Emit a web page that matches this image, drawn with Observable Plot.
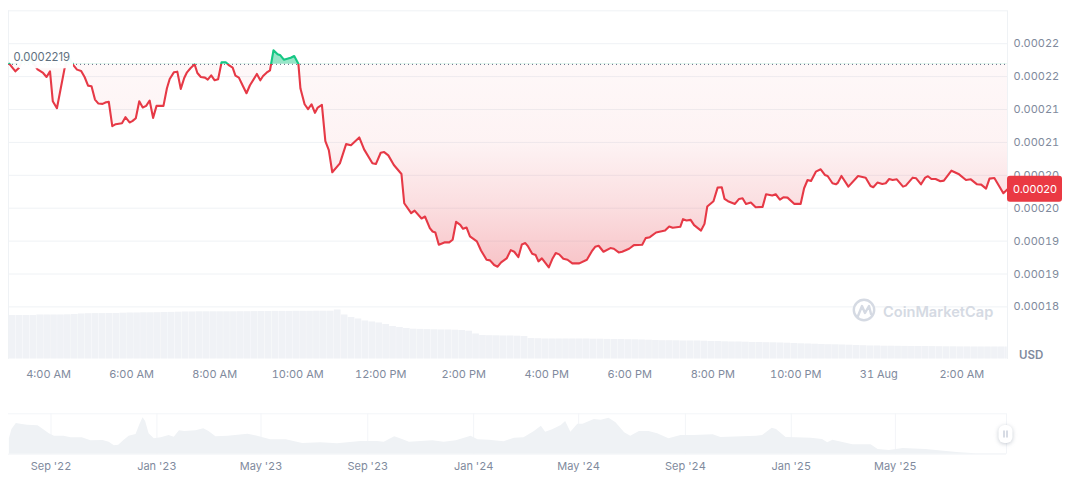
<!DOCTYPE html>
<html><head><meta charset="utf-8">
<script src="https://cdn.jsdelivr.net/npm/d3@7"></script>
<script src="https://cdn.jsdelivr.net/npm/@observablehq/plot@0.6"></script>
<style>
html,body{margin:0;padding:0;background:#fff}
#chart{position:relative;width:1072px;height:477px;overflow:hidden}
#chart svg{position:absolute;left:0;top:0}
</style></head><body><div id="chart"></div>
<script>
// minutes since 00:00, 30 Aug
const times=[183,192,197,207,224,232,237,242,246,252,257,263,269,276,281,287,292,297,302,307,312,318,323,327,332,337,346,351,357,361,366,371,376,381,386,391,396,406,411,415,421,426,431,436,440,445,451,455,460,466,470,475,480,485,490,496,501,506,510,515,521,526,531,541,546,550,555,560,565,571,575,580,590,595,601,604,610,615,620,625,629,635,640,645,650,661,670,677,689,696,708,713,720,725,731,739,750,754,764,769,779,784,791,795,799,804,812,819,824,829,835,839,844,849,859,865,873,878,884,889,894,902,908,913,919,924,929,933,939,944,948,953,963,968,973,978,984,990,997,1007,1018,1025,1030,1035,1042,1052,1057,1064,1069,1079,1086,1098,1103,1109,1118,1131,1137,1142,1153,1157,1162,1168,1173,1183,1188,1192,1201,1207,1213,1217,1222,1232,1238,1243,1248,1255,1262,1272,1277,1286,1291,1297,1302,1308,1318,1327,1332,1337,1342,1349,1356,1362,1366,1373,1378,1381,1386,1396,1410,1421,1428,1432,1438,1445,1450,1455,1460,1466,1475,1479,1489,1494,1501,1507,1511,1516,1522,1529,1534,1545,1556,1566,1573,1582,1588,1595,1600,1607,1620,1626];
// price in 1e-8 USD
const pricesE8=[22196,22080,22131,22368,22111,22055,21994,22080,21626,21520,21792,22121,22298,22171,22106,22085,21994,21863,21853,21651,21590,21585,21611,21616,21247,21277,21292,21383,21303,21323,21368,21626,21530,21555,21636,21373,21555,21555,21823,21964,22065,22075,21813,21979,22065,22126,22186,22055,21994,21984,21954,22020,21944,21959,22217,22217,22171,22136,22015,21984,21853,21747,21868,22040,21944,22010,22060,22096,22399,22338,22323,22257,22287,22313,22196,21818,21580,21505,21580,21449,21530,21570,21020,20883,20546,20682,20974,20957,21075,20894,20682,20671,20843,20853,20803,20656,20520,20075,19924,19964,19843,19874,19697,19646,19631,19444,19480,19480,19520,19793,19747,19687,19707,19571,19495,19358,19217,19207,19136,19111,19177,19237,19363,19338,19257,19449,19470,19419,19308,19288,19192,19237,19101,19227,19318,19298,19232,19217,19161,19161,19217,19343,19414,19429,19338,19394,19384,19328,19338,19384,19439,19444,19545,19560,19631,19661,19722,19702,19717,19833,19813,19823,19742,19660,19762,20025,20106,20313,20318,20141,20106,20065,20141,20151,20065,20086,20015,20020,20212,20192,20212,20131,20166,20161,20065,20065,20303,20429,20414,20555,20591,20505,20490,20379,20363,20389,20490,20328,20490,20464,20338,20318,20389,20368,20379,20444,20429,20439,20328,20343,20464,20454,20363,20464,20485,20444,20444,20409,20419,20570,20515,20429,20439,20363,20358,20298,20449,20459,20227,20288];
const baselineE8=22186;
const baselineLabel="0.0002219";
const lastLabel="0.00020";
const yTicksE8=[23000,22500,22000,21500,21000,20500,20000,19500,19000,18500];
const yTickLabels=["","0.00022","0.00022","0.00021","0.00021","0.00020","0.00020","0.00019","0.00019","0.00018"];
const xTickMinutes=[240,360,480,600,720,840,960,1080,1200,1320,1440,1560];
const xTickLabels=["4:00 AM","6:00 AM","8:00 AM","10:00 AM","12:00 PM","2:00 PM","4:00 PM","6:00 PM","8:00 PM","10:00 PM","31 Aug","2:00 AM"];
// volume, one bar per 10 minutes from 183 minutes (relative units)
const volumes=[43.5,43.5,43.5,43.5,44,44,44,44,44.2,44.5,45,45.3,45.4,45.4,45.5,45.5,45.8,46,46,46.2,46.2,46.3,46.5,46.6,46.8,47,47,47.2,47.2,47.2,47.2,47.2,47.2,47.3,47.3,47.4,47.5,47.5,47.6,47.6,47.6,47.7,47.7,47.7,47.8,47.8,47.8,49,44,41.5,40,38,37,36,34.5,32.5,31.5,30.5,29.8,29.6,29.4,29.2,29,29,28.8,28.5,27.8,25,23.5,23.3,23.2,23,23,22.8,22.5,20.5,20.3,20,20,20,20,20,20,20,19.8,19.8,19.6,19.5,19.5,19.3,19.2,19,18.8,18.5,18.3,18.3,18.2,18,18,18,17.8,17.5,17.5,17.2,17,17,16.8,16.5,16.5,16.3,16.2,16,15.8,15.5,15.2,15,14.8,14.5,14.3,14.2,14,13.8,13.5,13.3,13,13,12.8,12.8,12.7,12.6,12.5,12.5,12.5,12.4,12.3,12.2,12.2,12.1,12.1,12,12,12,12,12,12];
// overview: days relative to 1 Sep 2022, relative level
const navDays=[-48,-45,-40,-35,-27,-15,-10,-2,4,15,23,36,46,60,67,73,78,84,90,98,102,106,109,113,119,127,136,142,148,154,167,176,182,190,204,227,238,253,271,290,311,330,357,376,384,396,405,413,440,453,467,484,492,505,522,534,545,557,565,570,578,588,593,599,607,613,626,634,643,651,661,668,678,689,699,712,726,741,763,772,813,820,831,836,847,859,876,889,895,901,924,945,953,966,982,1008,1047,1066,1101];
const navLevels=[15.4,24.7,30.7,30,29,28.4,25.4,20.4,18,18,16.4,16.4,13.4,13.7,12,8.4,9,13.7,18,19.7,28.7,36.4,32.7,20.4,15.4,16.4,18.7,17,23.4,22.7,23.4,25.4,22.7,17.4,18,20,18,14.4,14.4,10.7,11.4,10.4,12.7,12.7,12,17.4,14.7,12,13.4,12,13.4,18,14.4,14,12.4,16,16.4,22.7,28,22,24.4,28.7,32.7,22,30,30,34.7,34,36,31.4,21.4,18,22.7,22.7,20.4,15.4,18.7,18.7,19.4,16.7,18,18.7,26,24.7,16.7,16.4,16,14.7,11.4,14,9.4,9.4,4.7,3.7,5.7,4.7,1.4,0.4,0.4];
const navTickDates=["2022-09-01","2023-01-01","2023-05-01","2023-09-01","2024-01-01","2024-05-01","2024-09-01","2025-01-01","2025-05-01"];
const navTickLabels=["Sep '22","Jan '23","May '23","Sep '23","Jan '24","May '24","Sep '24","Jan '25","May '25"];

const RED="#e63946",GREEN="#16c784",GRID="#eff2f5",TICK="#808a9d",FONT="Inter, sans-serif";
const minuteDate=m=>new Date(Date.UTC(2025,7,30,0,m));
const data=times.map((t,i)=>({date:minuteDate(t),price:pricesE8[i]*1e-8}));
const base=baselineE8*1e-8;
const last=data[data.length-1];
const xDomain=[minuteDate(182.2),minuteDate(1626.5)];
const yTicks=yTicksE8.map(v=>v*1e-8);
const xTicks=xTickMinutes.map(minuteDate);

const volData=volumes.map((v,i)=>({x1:minuteDate(183+10*i),x2:minuteDate(Math.min(193+10*i,1626.5)),v}));
const volPlot=Plot.plot({width:1072,height:477,marginLeft:8,marginRight:65,marginTop:258.5,marginBottom:118.5,
  style:{background:"transparent"},
  x:{type:"utc",domain:xDomain,axis:null},y:{domain:[0,100],axis:null},
  marks:[Plot.rectY(volData,{x1:"x1",x2:"x2",y:"v",fill:"#f0f2f6",insetRight:0.25})]});

const defsMark=(index,{y})=>{
  const g=d3.create("svg:defs");
  const top=y(23000e-8),bot=y(19100e-8),by=y(base);
  const off=(by-top)/(bot-top);
  const at=v=>(y(v*1e-8)-top)/(bot-top);
  const area=g.append("linearGradient").attr("id","areaGrad").attr("gradientUnits","userSpaceOnUse")
    .attr("x1",0).attr("x2",0).attr("y1",top).attr("y2",bot);
  [[0,GREEN,.45],[off,GREEN,.45],[off,RED,.035],[at(21000),RED,.06],[at(20000),RED,.17],[1,RED,.3]].forEach(([o,c,a])=>
    area.append("stop").attr("offset",o).attr("stop-color",c).attr("stop-opacity",a));
  const line=g.append("linearGradient").attr("id","lineGrad").attr("gradientUnits","userSpaceOnUse")
    .attr("x1",0).attr("x2",0).attr("y1",top).attr("y2",bot);
  [[0,GREEN],[off,GREEN],[off,RED],[1,RED]].forEach(([o,c])=>
    line.append("stop").attr("offset",o).attr("stop-color",c));
  return g.node();
};
const labelBack=(index,{y})=>{
  const cy=y(base);
  return d3.create("svg:rect").attr("x",17.5).attr("y",cy-16).attr("width",55.5).attr("height",20.5).attr("rx",3)
    .attr("fill","#fff").attr("fill-opacity",.96).node();
};
const tagMark=(index,{y})=>{
  const g=d3.create("svg:g").attr("text-anchor","start");
  const cy=y(last.price);
  g.append("rect").attr("x",1007).attr("y",cy-13).attr("width",55).attr("height",26).attr("rx",3).attr("fill","#ea3943");
  g.append("text").attr("x",1013).attr("y",cy).attr("dy","0.36em").attr("fill","#fff")
    .attr("font-size",11).attr("font-family",FONT).text(lastLabel);
  return g.node();
};
const furniture=()=>{
  const g=d3.create("svg:g").attr("text-anchor","start");
  g.append("circle").attr("cx",864).attr("cy",310).attr("r",10.2).attr("fill","#fff").attr("stroke","#d5dae3").attr("stroke-width",2.4);
  g.append("path").attr("d","M858 316 L862 306 L865 313 L869 306 L871 314").attr("fill","none").attr("stroke","#d5dae3").attr("stroke-width",2.4).attr("stroke-linejoin","round").attr("stroke-linecap","round");
  g.append("text").attr("x",883).attr("y",316.5).attr("fill","#d5dae3").attr("font-size",14.6).attr("font-weight",600).attr("font-family",FONT).text("CoinMarketCap");
  g.append("text").attr("x",1019).attr("y",359).attr("fill",TICK).attr("font-size",11.5).attr("font-weight",600).attr("font-family",FONT).text("USD");
  return g.node();
};

const mainPlot=Plot.plot({width:1072,height:477,marginLeft:8,marginRight:65,marginTop:10.3,marginBottom:137.7,
  style:{background:"transparent",fontFamily:FONT},
  x:{type:"utc",domain:xDomain},y:{domain:[18000e-8,23000e-8]},
  marks:[
    defsMark,
    Plot.ruleY(yTicks,{stroke:GRID,strokeWidth:1}),
    Plot.ruleX(xDomain,{y1:23000e-8,y2:17703e-8,stroke:GRID,strokeWidth:1}),
    Plot.axisX({ticks:xTicks,tickSize:0,tickPadding:30,label:null,fontSize:11,fill:TICK,
      tickFormat:d=>xTickLabels[xTickMinutes.indexOf(d3.utcMinute.count(minuteDate(0),d))]}),
    Plot.axisY({anchor:"right",ticks:yTicks,tickSize:0,tickPadding:6,label:null,fontSize:11,fill:TICK,textAnchor:"start",
      tickFormat:d=>yTickLabels[yTicks.indexOf(d)]}),
    furniture,
    Plot.areaY(data,{x:"date",y1:()=>base,y2:"price",fill:"url(#areaGrad)"}),
    Plot.ruleY([base],{stroke:"#58667e",strokeWidth:1,strokeDasharray:"1 3"}),
    Plot.line(data,{x:"date",y:"price",stroke:"url(#lineGrad)",strokeWidth:2.1,strokeLinejoin:"round"}),
    labelBack,
    Plot.text([base],{y:d=>d,x:()=>xDomain[0],dx:5,dy:-7,text:()=>baselineLabel,textAnchor:"start",fontSize:11.3,fill:"#5f7080"}),
    tagMark
  ]});

const navOrigin=new Date(Date.UTC(2022,8,1));
const navDate=d=>d3.utcDay.offset(navOrigin,d);
const navData=navDays.map((d,i)=>({date:navDate(d),level:navLevels[i]}));
const navTicks=navTickDates.map(d=>new Date(d+"T00:00:00Z"));
const navDomain=[navDate(-48.4),navDate(1101)];
const handle=()=>{
  const g=d3.create("svg:g");
  g.append("rect").attr("x",998.5).attr("y",425).attr("width",14).attr("height",18).attr("rx",6).attr("fill","#fff")
    .style("filter","drop-shadow(0 1px 2px rgba(88,102,126,.35))");
  g.append("path").attr("d","M1004 430.5V437.5M1007 430.5V437.5").attr("stroke","#a6b0c3").attr("stroke-width",.9);
  return g.node();
};
const navPlot=Plot.plot({width:1072,height:477,marginLeft:8,marginRight:66,marginTop:413.3,marginBottom:23.3,
  style:{background:"transparent",fontFamily:FONT},
  x:{type:"utc",domain:navDomain},y:{domain:[0,40.4],axis:null},
  marks:[
    Plot.ruleY([0,40.4],{stroke:"#f3f5f8",strokeWidth:1}),
    Plot.ruleX(navTicks,{stroke:"#f3f5f8",strokeWidth:1}),
    Plot.ruleX([navDomain[1]],{stroke:"#f3f5f8",strokeWidth:1}),
    Plot.areaY(navData,{x:"date",y:"level",fill:"#eff2f5"}),
    Plot.axisX({ticks:navTicks,tickSize:0,tickPadding:8,label:null,fontSize:11,fill:TICK,
      tickFormat:d=>navTickLabels[navTicks.findIndex(t=>+t===+d)]}),
    handle
  ]});

document.getElementById("chart").append(volPlot,mainPlot,navPlot);
</script></body></html>
